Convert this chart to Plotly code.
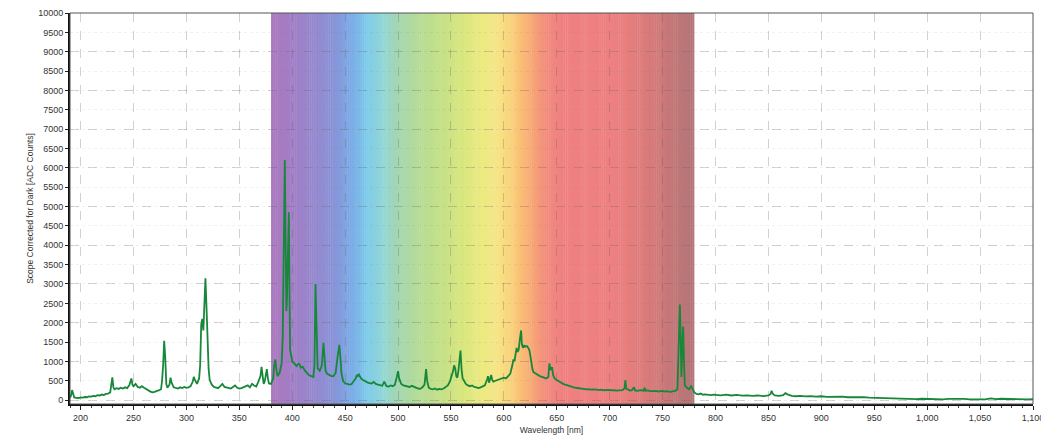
import plotly.graph_objects as go

# ---------------- data ----------------
wavelength = [
    190, 191, 192, 193, 194, 196, 198, 200, 202, 204, 206, 208, 210, 212, 214, 216, 218, 220, 222, 224,
    226, 228, 229, 230, 231, 232, 234, 236, 238, 240, 242, 244, 246, 247, 248, 249, 250, 252, 253, 254,
    256, 258, 260, 262, 264, 266, 268, 270, 272, 274, 276, 277, 278, 279, 280, 281, 282, 284, 285, 286,
    288, 290, 292, 294, 296, 298, 300, 302, 304, 306, 307, 308, 310, 312, 313, 314, 315, 316, 317, 318,
    319, 320, 321, 322, 324, 326, 328, 330, 332, 334, 336, 338, 340, 342, 344, 346, 348, 350, 352, 354,
    356, 358, 360, 362, 364, 366, 368, 370, 371, 372, 373, 374, 375, 376, 377, 378, 380, 382, 383, 384,
    385, 386, 388, 390, 391, 392, 393, 393.6, 394, 394.5, 395, 396, 396.8, 397.5, 398, 399, 400, 402, 404, 406,
    407, 408, 410, 412, 414, 416, 418, 420, 421, 422, 422.8, 423.5, 424, 426, 428, 429.5, 430.5, 431.5, 433, 435,
    437, 439, 441, 443, 444.5, 445.5, 446.5, 448, 450, 452, 454, 456, 458, 460, 461, 462, 463, 465, 467, 469,
    471, 473, 475, 477, 479, 481, 483, 485, 487, 489, 491, 493, 495, 497, 499, 500, 501, 503, 505, 507,
    509, 511, 513, 515, 517, 519, 521, 523, 525, 526.5, 527.5, 529, 531, 533, 535, 537, 539, 541, 543, 545,
    547, 549, 551, 552, 553, 554, 555, 556, 557, 558, 559, 560, 561, 562, 564, 566, 568, 570, 572, 574,
    576, 578, 580, 582, 584, 585, 586, 587, 588, 589, 590, 592, 594, 596, 598, 600, 602, 604, 606, 608,
    609, 610, 611, 612, 613, 614, 615, 616.3, 617, 618, 619, 620, 621, 622, 623, 624, 625, 626, 627, 628,
    630, 632, 634, 636, 638, 640, 642, 643, 644, 645.5, 646.5, 648, 650, 652, 654, 656, 658, 660, 662, 664,
    666, 668, 670, 672, 674, 676, 678, 680, 682, 684, 686, 688, 690, 692, 694, 696, 698, 700, 702, 704,
    706, 708, 710, 712, 714, 714.8, 715.6, 717, 719, 721, 723, 724, 726, 728, 730, 732, 733, 734, 736, 738,
    740, 742, 744, 746, 748, 750, 752, 754, 756, 758, 760, 762, 764, 765, 766.3, 767, 767.8, 768.5, 769.4, 770.2,
    771, 773, 775, 777, 778, 780, 782, 784, 786, 788, 790, 792, 794, 796, 798, 800, 805, 810, 815, 820,
    825, 830, 835, 840, 845, 850, 852, 853, 854, 856, 860, 864, 866, 868, 872, 876, 880, 885, 890, 895,
    900, 905, 910, 915, 920, 925, 930, 935, 940, 945, 950, 955, 960, 965, 970, 975, 980, 985, 990, 995,
    1000, 1005, 1010, 1015, 1020, 1025, 1030, 1035, 1040, 1045, 1050, 1055, 1060, 1062, 1065, 1070, 1075, 1080, 1085, 1090,
    1095, 1100,
]
counts = [
    60, 120, 260, 150, 70, 60, 55, 70, 65, 80, 75, 95, 90, 110, 100, 125, 120, 145, 130, 160,
    170, 200, 420, 590, 330, 280, 310, 290, 320, 300, 330, 310, 380, 520, 560, 400, 360, 420, 380, 340,
    320, 360, 320, 280, 250, 220, 200, 210, 240, 250, 280, 500, 900, 1530, 1100, 420, 320, 400, 580, 450,
    330, 310, 300, 330, 310, 340, 320, 330, 360, 480, 600, 520, 420, 560, 900, 1950, 2100, 1800, 2600, 3150,
    2400, 1350, 800, 520, 400, 340, 320, 310, 360, 420, 340, 320, 310, 300, 340, 380, 320, 300, 310, 330,
    350, 380, 330, 420, 380, 350, 480, 620, 860, 650, 420, 480, 700, 800, 560, 430, 420, 560, 900, 1050,
    800, 620, 700, 950, 1600, 3800, 6200, 4500, 2800, 2300, 2600, 3800, 4850, 2600, 1300, 1150, 1000, 950, 880, 940,
    920, 840, 860, 760, 700, 640, 620, 600, 900, 3000, 2100, 900, 820, 760, 900, 1480, 1100, 760, 680, 640,
    620, 620, 700, 1150, 1430, 1100, 700, 500, 430, 420, 400, 410, 480, 560, 650, 620, 660, 560, 520, 480,
    460, 440, 430, 470, 420, 400, 380, 370, 480, 360, 350, 380, 360, 400, 620, 750, 560, 420, 380, 360,
    350, 340, 370, 340, 330, 300, 290, 330, 400, 800, 500, 320, 290, 280, 300, 270, 290, 280, 300, 340,
    380, 480, 650, 750, 900, 820, 620, 580, 750, 1050, 1280, 800, 560, 520, 420, 380, 360, 380, 340, 330,
    310, 330, 350, 380, 520, 620, 450, 560, 650, 520, 480, 500, 520, 540, 560, 580, 560, 620, 680, 900,
    1050, 1000, 1150, 1350, 1250, 1300, 1550, 1800, 1450, 1350, 1420, 1380, 1400, 1390, 1350, 1300, 1150, 950, 800, 720,
    680, 650, 620, 600, 580, 560, 600, 950, 780, 850, 650, 560, 520, 480, 440, 420, 400, 380, 350, 340,
    330, 320, 310, 300, 295, 290, 280, 285, 270, 280, 265, 270, 260, 270, 255, 260, 250, 265, 250, 260,
    245, 250, 255, 260, 300, 520, 300, 270, 250, 260, 330, 250, 240, 250, 260, 240, 320, 240, 250, 230,
    240, 230, 240, 220, 230, 240, 220, 230, 220, 215, 230, 240, 280, 1200, 2470, 1700, 600, 1300, 1900, 1000,
    380, 320, 280, 360, 300, 200, 160, 150, 170, 140, 150, 140, 145, 130, 140, 135, 125, 140, 120, 135,
    115, 125, 110, 120, 105, 120, 160, 240, 170, 120, 110, 130, 180, 150, 110, 100, 110, 95, 105, 90,
    100, 85, 90, 80, 90, 75, 80, 70, 80, 65, 60, 50, 45, 40, 35, 40, 30, 35, 25, 35,
    30, 25, 30, 20, 30, 35, 25, 30, 20, 25, 30, 20, 45, 30, 25, 35, 30, 40, 25, 30,
    20, 25,
]

# visible-spectrum backdrop colour stops (nm, rgb)
band_nm = [380, 400, 420, 440, 455, 470, 485, 500, 520, 540, 560, 580, 595, 610, 625, 640, 655, 700, 720, 740, 760, 780]
band_rgb = [
    (170, 120, 190), (162, 126, 198), (150, 136, 206), (136, 148, 216), (122, 170, 230), (126, 202, 234),
    (144, 214, 216), (164, 214, 176), (182, 220, 150), (196, 224, 136), (216, 230, 126), (236, 234, 130),
    (246, 228, 134), (250, 204, 120), (248, 170, 116), (242, 140, 126), (240, 128, 128), (238, 128, 128),
    (230, 125, 125), (214, 122, 122), (194, 118, 119), (178, 118, 121),
]


def band_colour(w):
    for i in range(len(band_nm) - 1):
        if band_nm[i] <= w <= band_nm[i + 1]:
            t = (w - band_nm[i]) / (band_nm[i + 1] - band_nm[i])
            a, b = band_rgb[i], band_rgb[i + 1]
            return "rgb(%d,%d,%d)" % tuple(round(a[k] + (b[k] - a[k]) * t) for k in range(3))
    return "rgb(%d,%d,%d)" % band_rgb[-1]


shapes = []
step = 2
for w0 in range(band_nm[0], band_nm[-1], step):
    shapes.append(dict(
        type="rect", xref="x", yref="y", x0=w0, x1=min(w0 + step + 0.4, band_nm[-1]), y0=-100, y1=10000,
        fillcolor=band_colour(w0 + step / 2), line=dict(width=0), layer="below",
    ))
# thin frame on top/right
shapes.append(dict(type="rect", xref="paper", yref="paper", x0=0, x1=1, y0=0, y1=1,
                   line=dict(color="#555555", width=1), fillcolor="rgba(0,0,0,0)", layer="above"))

fig = go.Figure()
fig.add_trace(go.Scatter(
    x=wavelength, y=counts, mode="lines",
    line=dict(color="#17873a", width=1.8), showlegend=False, hoverinfo="x+y",
))
fig.add_trace(go.Scatter(x=[None], y=[None], yaxis="y2", showlegend=False, hoverinfo="skip"))

FONT = "Liberation Sans, Arial, sans-serif"
tickfont = dict(family=FONT, size=9, color="#333333")

# the page body adds 8px on each side, so the figure is sized to fit the window
fig.update_layout(
    width=1041, height=427,
    margin=dict(l=62, r=16, t=5, b=31),
    paper_bgcolor="white", plot_bgcolor="white",
    shapes=shapes,
    xaxis=dict(
        range=[190, 1100], dtick=50, tick0=200, tickformat=",d",
        showgrid=True, gridcolor="rgba(90,90,90,0.28)", griddash="dash", gridwidth=1,
        ticks="outside", ticklen=4, tickcolor="#222", tickfont=tickfont, ticklabeloverflow="allow",
        minor=dict(dtick=10, ticks="outside", ticklen=2, tickcolor="#444", showgrid=False),
        showline=True, linecolor="#111", linewidth=2, zeroline=False, automargin=False,
        title=dict(text="Wavelength [nm]", font=dict(family=FONT, size=8.5, color="#333"), standoff=6),
    ),
    yaxis=dict(
        range=[-100, 10000], dtick=500, tick0=0, tickformat="d",
        showgrid=True, gridcolor="rgba(120,120,120,0.10)", griddash="dot", gridwidth=1,
        ticks="outside", ticklen=3, tickcolor="#222", tickfont=tickfont,
        showline=True, linecolor="#111", linewidth=2, zeroline=False, automargin=False,
        title=dict(text="Scope Corrected for Dark [ADC Counts]", font=dict(family=FONT, size=8.5, color="#333"), standoff=3),
    ),
    yaxis2=dict(
        overlaying="y", range=[-100, 10000], dtick=1000, tick0=0,
        showgrid=True, gridcolor="rgba(110,90,90,0.25)", griddash="dash", gridwidth=1,
        showticklabels=False, ticks="", zeroline=False, showline=False, automargin=False,
    ),
)

fig.write_html("out.html")
